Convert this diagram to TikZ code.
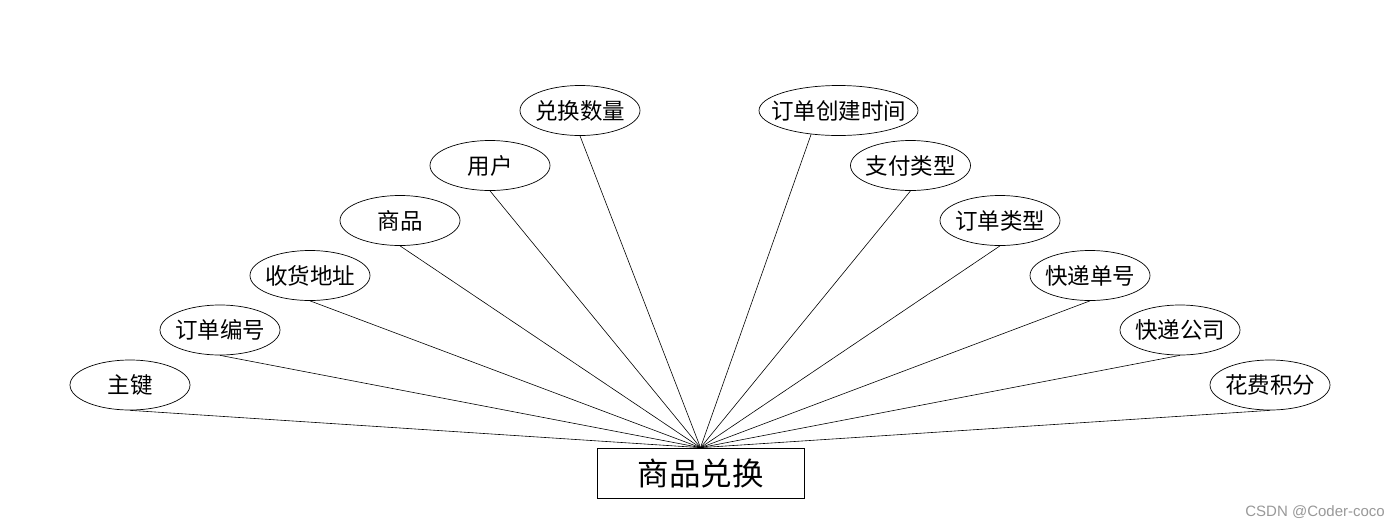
\documentclass[tikz,border=0pt]{standalone}
\usepackage{fontspec}
\newfontfamily\cjk{Noto Sans CJK SC}
\usetikzlibrary{shapes.geometric}
\tikzset{
  attr/.style={ellipse, draw=black, line width=0.7pt, minimum width=120pt, minimum height=50pt, inner ysep=0pt, inner xsep=-3pt, font=\cjk\fontsize{22.5}{26}\selectfont},
  entity/.style={rectangle, draw=black, line width=0.7pt, minimum width=207pt, minimum height=50pt, inner sep=0pt, font=\cjk\fontsize{31.5}{36}\selectfont},
  link/.style={draw=black, line width=0.6pt}
}
\begin{document}
\begin{tikzpicture}[x=1pt,y=-1pt]
\useasboundingbox[fill=white] (0,0) rectangle (1400,528);
\node[entity] (r) at (700.5,473) {商品兑换};
\node[attr] (a1) at (130,385) {主键};
\node[attr] (a2) at (220,330) {订单编号};
\node[attr] (a3) at (310,275.5) {收货地址};
\node[attr] (a4) at (400,220.5) {商品};
\node[attr] (a5) at (490,165.5) {用户};
\node[attr] (a6) at (580,110.5) {兑换数量};
\node[attr, minimum width=159pt, inner xsep=-11.5pt] (a7) at (838.5,110.5) {订单创建时间};
\node[attr] (a8) at (910.5,165.5) {支付类型};
\node[attr] (a9) at (1000,220.5) {订单类型};
\node[attr] (a10) at (1090,275.5) {快递单号};
\node[attr] (a11) at (1180,330) {快递公司};
\node[attr] (a12) at (1270,385) {花费积分};
\coordinate (a7b) at (a7.221);
\foreach \n in {a1,a2,a3,a4,a5,a6,a8,a9,a10,a11,a12} {
  \draw[link] (\n.south) -- (r.north);
}
\draw[link] (a7b) -- (r.north);
\node[text=black!40, font=\fontspec{Liberation Sans}\fontsize{15}{17}\selectfont, anchor=east, inner sep=0pt] (wm) at (1385,512) {CSDN @Coder-coco};
\end{tikzpicture}
\end{document}
